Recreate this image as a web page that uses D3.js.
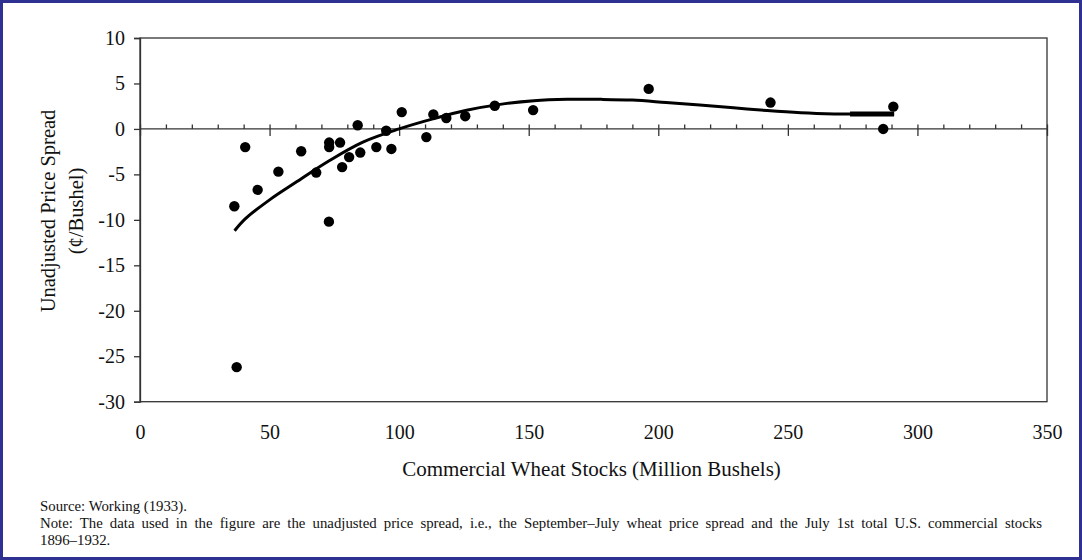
<!DOCTYPE html>
<html>
<head>
<meta charset="utf-8">
<script src="https://cdn.jsdelivr.net/npm/d3@7"></script>
<style>
  body { margin: 0; background: #fff; }
  text { font-family: "Liberation Serif", "Times New Roman", serif; fill: #111; }
  .axis path, .axis line { stroke: #333; stroke-width: 1.3; }
  .axis text { font-size: 20px; }
</style>
</head>
<body>
<script>
// stocks (million bushels) vs unadjusted Sep-Jul price spread (cents/bushel)
var stocks = [36.4, 37.3, 40.6, 45.4, 53.4, 62.2, 68, 72.9, 73, 73, 77.2, 78, 80.7, 84, 85,
  91.2, 95, 97, 101, 110.5, 113.2, 118.2, 125.5, 136.9, 151.7, 196.3, 243.3, 286.8, 290.7];
var spread = [-8.5, -26.2, -2.0, -6.7, -4.7, -2.45, -4.8, -10.2, -1.5, -2.0, -1.5, -4.2, -3.1, 0.4, -2.6,
  -2.0, -0.2, -2.2, 1.85, -0.9, 1.6, 1.2, 1.4, 2.55, 2.07, 4.4, 2.9, 0, 2.45];

// fitted trend
var fitX = [36.5, 40.6, 50, 60, 73, 86, 100, 113, 126, 139, 152, 165, 178, 190, 203, 216, 229, 242, 255, 268, 274, 291];
var fitY = [-11.2, -9.9, -7.8, -5.9, -3.5, -1.45, 0, 1.1, 2.05, 2.7, 3.1, 3.25, 3.25, 3.17, 2.9, 2.62, 2.33, 2.02, 1.78, 1.65, 1.63, 1.63];

var xTicks = [0, 50, 100, 150, 200, 250, 300, 350];
var yTicks = [-30, -25, -20, -15, -10, -5, 0, 5, 10];

var width = 1082, height = 560;

var x = d3.scaleLinear().domain([0, 350]).range([140, 1047]);
var y = d3.scaleLinear().domain([-30, 10]).range([401.7, 38]);

var svg = d3.select("body").append("svg")
  .attr("width", width)
  .attr("height", height);

// outer frame
svg.append("rect")
  .attr("x", 1.5).attr("y", 1.5)
  .attr("width", width - 3).attr("height", height - 3)
  .attr("fill", "#fff")
  .attr("stroke", "#2e3192")
  .attr("stroke-width", 3);

// plot box
svg.append("rect")
  .attr("x", x(0)).attr("y", y(10))
  .attr("width", x(350) - x(0)).attr("height", y(-30) - y(10))
  .attr("fill", "none")
  .attr("stroke", "#333")
  .attr("stroke-width", 1.3);

// y axis
svg.append("g")
  .attr("class", "axis")
  .attr("transform", "translate(" + x(0) + ",0)")
  .call(d3.axisLeft(y).tickValues(yTicks).tickSize(6).tickPadding(9))
  .call(function(g) { g.selectAll("text").text(function(d) { return d < 0 ? "-" + Math.abs(d) : d; }); });

// x labels under the box
svg.append("g")
  .attr("class", "axis")
  .attr("transform", "translate(0," + y(-30) + ")")
  .call(d3.axisBottom(x).tickValues(xTicks).tickSize(0).tickPadding(23))
  .call(function(g) { g.select(".domain").remove(); });

// zero line with minor and major ticks
var zero = svg.append("g").attr("class", "axis").attr("transform", "translate(0," + y(0) + ")");
zero.call(d3.axisTop(x).tickValues(d3.range(0, 351, 10)).tickSize(4.5).tickFormat(""))
  .call(function(g) { g.selectAll(".domain").remove(); });
zero.append("g")
  .call(d3.axisBottom(x).tickValues(xTicks).tickSize(7).tickFormat(""))
  .call(function(g) { g.selectAll(".domain").remove(); });
zero.append("line")
  .attr("x1", x(0)).attr("x2", x(350))
  .attr("stroke", "#333").attr("stroke-width", 1.3);

// fitted curve
var fit = fitX.map(function(d, i) { return [d, fitY[i]]; });
var line = d3.line()
  .curve(d3.curveCatmullRom)
  .x(function(d) { return x(d[0]); })
  .y(function(d) { return y(d[1]); });

svg.append("path")
  .datum(fit)
  .attr("d", line)
  .attr("fill", "none")
  .attr("stroke", "#000")
  .attr("stroke-width", 3);

// the heavier stub at the end of the curve
svg.append("path")
  .datum(fit.slice(-2))
  .attr("d", line)
  .attr("fill", "none")
  .attr("stroke", "#000")
  .attr("stroke-width", 5);

// points
svg.append("g").selectAll("circle")
  .data(stocks)
  .enter()
  .append("circle")
  .attr("cx", function(d) { return x(d); })
  .attr("cy", function(d, i) { return y(spread[i]); })
  .attr("r", 5.2)
  .attr("fill", "#000");

// axis titles
svg.append("text")
  .attr("x", (x(0) + x(350)) / 2 - 2)
  .attr("y", 476)
  .attr("text-anchor", "middle")
  .style("font-size", "21px")
  .text("Commercial Wheat Stocks (Million Bushels)");

var ytitle = svg.append("text")
  .attr("transform", "translate(0,211) rotate(-90)")
  .attr("text-anchor", "middle")
  .style("font-size", "20.5px");
ytitle.append("tspan").attr("x", 0).attr("y", 55).text("Unadjusted Price Spread");
ytitle.append("tspan").attr("x", 0).attr("y", 83).text("(\u00a2/Bushel)");

// notes (second line is justified to the right margin)
var notes = [
  "Source: Working (1933).",
  "Note: The data used in the figure are the unadjusted price spread, i.e., the September\u2013July wheat price spread and the July 1st total U.S. commercial stocks",
  "1896\u20131932."
];
svg.append("g").selectAll("text")
  .data(notes)
  .enter()
  .append("text")
  .attr("x", 40)
  .attr("y", function(d, i) { return 511 + i * 17; })
  .style("font-size", "14.8px")
  .text(function(d) { return d; })
  .each(function(d, i) {
    if (i !== 1) return;
    var gaps = d.split(" ").length - 1;
    var extra = (1042 - 40 - this.getComputedTextLength()) / gaps;
    d3.select(this).style("word-spacing", extra + "px");
  });
</script>
</body>
</html>
